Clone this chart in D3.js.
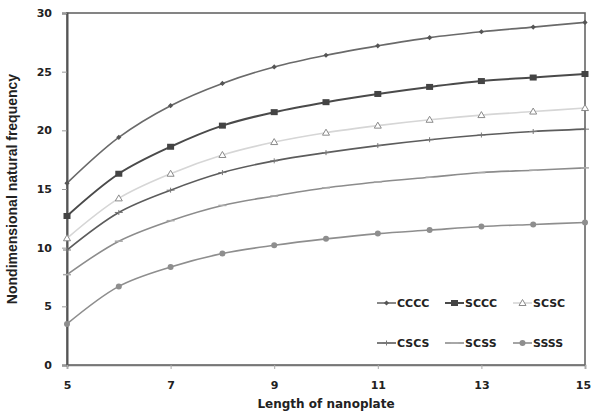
<!DOCTYPE html>
<html>
<head>
<meta charset="UTF-8">
<style>
  body { margin: 0; background: #fff; }
  svg text { font-family: "DejaVu Sans", Verdana, sans-serif; font-weight: bold; fill: #222; }
</style>
</head>
<body>
<svg id="chart" width="593" height="416"></svg>
<script src="https://d3js.org/d3.v7.min.js"></script>
<script>
// longitudes del nanoplate
const lengths = [5, 6, 7, 8, 9, 10, 11, 12, 13, 14, 15];
const xTicks = [5, 7, 9, 11, 13, 15];
const yTicks = [0, 5, 10, 15, 20, 25, 30];

// valores
const cccc = [15.5, 19.4, 22.1, 24.0, 25.4, 26.4, 27.2, 27.9, 28.4, 28.8, 29.2];
const sccc = [12.7, 16.3, 18.6, 20.4, 21.55, 22.4, 23.1, 23.7, 24.2, 24.5, 24.8];
const scsc = [10.8, 14.2, 16.3, 17.9, 19.0, 19.8, 20.4, 20.9, 21.3, 21.6, 21.9];
const cscs = [9.8, 13.0, 14.9, 16.4, 17.4, 18.1, 18.7, 19.2, 19.6, 19.9, 20.1];
const scss = [7.7, 10.55, 12.3, 13.6, 14.4, 15.1, 15.6, 16.0, 16.4, 16.6, 16.8];
const ssss = [3.5, 6.7, 8.35, 9.5, 10.2, 10.75, 11.2, 11.5, 11.8, 11.98, 12.15];

const seriesNames = ["CCCC", "SCCC", "SCSC", "CSCS", "SCSS", "SSSS"];
const seriesValues = [cccc, sccc, scsc, cscs, scss, ssss];

// estilo de cada serie
const styles = {
  CCCC: { line: "#6a6a6a", width: 1.6, marker: "diamond", fill: "#555" },
  SCCC: { line: "#4a4a4a", width: 2, marker: "square", fill: "#444" },
  SCSC: { line: "#d6d6d6", width: 1.6, marker: "triangle", fill: "none", stroke: "#8a8a8a" },
  CSCS: { line: "#5c5c5c", width: 1.6, marker: "plus", fill: "none", stroke: "#777" },
  SCSS: { line: "#8c8c8c", width: 1.6, marker: "dash", fill: "none", stroke: "#aaa" },
  SSSS: { line: "#8e8e8e", width: 1.6, marker: "circle", fill: "#8e8e8e" }
};

const margin = { left: 67, right: 8, top: 13, bottom: 51 };
const width = 593, height = 416;

const svg = d3.select("#chart");

const x = d3.scaleLinear().domain([5, 15]).range([margin.left, width - margin.right]);
const y = d3.scaleLinear().domain([0, 30]).range([height - margin.bottom, margin.top]);

// marco del area de trazado
svg.append("rect")
  .attr("x", x(5)).attr("y", y(30))
  .attr("width", x(15) - x(5)).attr("height", y(0) - y(30))
  .attr("fill", "none").attr("stroke", "#666").attr("stroke-width", 1.6);

// eje Y
const yAxis = svg.append("g")
  .attr("transform", `translate(${x(5)},0)`)
  .call(d3.axisLeft(y).tickValues(yTicks).tickSize(5).tickPadding(10));
yAxis.select(".domain").attr("stroke", "#555").attr("stroke-width", 2);
yAxis.selectAll(".tick line").attr("stroke", "#999");
yAxis.selectAll("text").attr("font-size", 11).attr("fill", "#222")
  .style("font-family", '"DejaVu Sans", sans-serif').style("font-weight", "bold");

// eje X
const xAxis = svg.append("g")
  .attr("transform", `translate(0,${y(0)})`)
  .call(d3.axisBottom(x).tickValues(xTicks).tickSize(4).tickPadding(12));
xAxis.select(".domain").attr("stroke", "#777").attr("stroke-width", 1.6);
xAxis.selectAll(".tick line").attr("stroke", "#aaa");
xAxis.selectAll("text").attr("font-size", 11).attr("fill", "#222")
  .style("font-family", '"DejaVu Sans", sans-serif').style("font-weight", "bold");
// la ultima etiqueta queda pegada al borde
xAxis.selectAll(".tick").filter(d => d === 15).select("text").attr("dx", -2);

// titulos
svg.append("text")
  .attr("x", (x(5) + x(15)) / 2).attr("y", 408)
  .attr("text-anchor", "middle").attr("font-size", 12)
  .text("Length of nanoplate");

svg.append("text")
  .attr("transform", `translate(17,${(y(0) + y(30)) / 2}) rotate(-90)`)
  .attr("text-anchor", "middle").attr("font-size", 14)
  .style("font-family", '"Liberation Sans Narrow", "Arial Narrow", sans-serif')
  .text("Nondimensional natural frequency");

const line = d3.line()
  .x((d, i) => x(lengths[i]))
  .y(d => y(d))
  .curve(d3.curveCatmullRom.alpha(0.5));

function drawMarker(g, type, cx, cy, st) {
  const stroke = st.stroke || st.fill;
  if (type === "diamond") {
    g.append("path").attr("d", `M${cx},${cy - 2.6}L${cx + 2.6},${cy}L${cx},${cy + 2.6}L${cx - 2.6},${cy}Z`)
      .attr("fill", st.fill);
  } else if (type === "square") {
    g.append("rect").attr("x", cx - 3.5).attr("y", cy - 3).attr("width", 7).attr("height", 6)
      .attr("fill", st.fill);
  } else if (type === "triangle") {
    g.append("path").attr("d", `M${cx},${cy - 3.5}L${cx + 3.5},${cy + 2.5}L${cx - 3.5},${cy + 2.5}Z`)
      .attr("fill", "#fff").attr("stroke", stroke).attr("stroke-width", 1);
  } else if (type === "plus") {
    g.append("path").attr("d", `M${cx - 4},${cy}L${cx + 4},${cy}M${cx},${cy - 2.5}L${cx},${cy + 2.5}`)
      .attr("stroke", stroke).attr("stroke-width", 1);
  } else if (type === "dash") {
    g.append("path").attr("d", `M${cx - 4},${cy}L${cx + 4},${cy}`)
      .attr("stroke", stroke).attr("stroke-width", 1.5);
  } else if (type === "circle") {
    g.append("circle").attr("cx", cx).attr("cy", cy).attr("r", 3).attr("fill", st.fill);
  }
}

seriesNames.forEach((name, k) => {
  const st = styles[name];
  const vals = seriesValues[k];
  const g = svg.append("g");
  g.append("path").datum(vals)
    .attr("d", line)
    .attr("fill", "none")
    .attr("stroke", st.line)
    .attr("stroke-width", st.width);
  vals.forEach((v, i) => drawMarker(g, st.marker, x(lengths[i]), y(v), st));
});

// leyenda
const legendCols = [377, 445, 513];
const legendRows = [303, 343];
seriesNames.forEach((name, k) => {
  const st = styles[name];
  const lx = legendCols[k % 3];
  const ly = legendRows[Math.floor(k / 3)];
  const g = svg.append("g");
  g.append("line").attr("x1", lx).attr("x2", lx + 19).attr("y1", ly).attr("y2", ly)
    .attr("stroke", st.line).attr("stroke-width", st.width);
  drawMarker(g, st.marker, lx + 9.5, ly, st);
  g.append("text").attr("x", lx + 20).attr("y", ly + 4)
    .attr("font-size", 11).text(name);
});
</script>
</body>
</html>
